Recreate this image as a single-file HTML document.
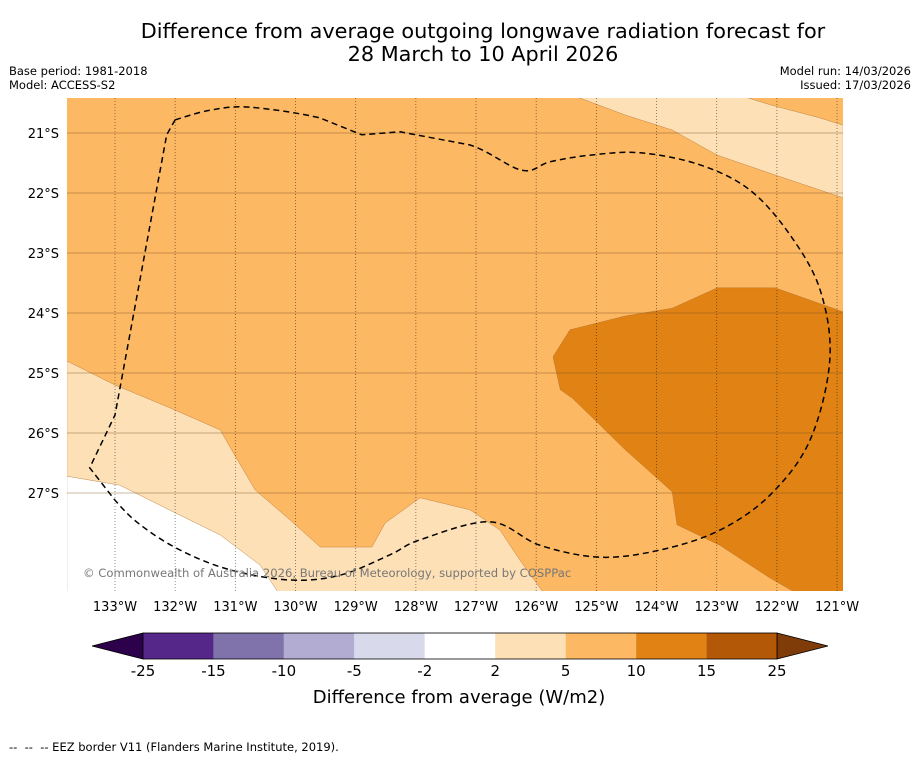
<!DOCTYPE html>
<html><head><meta charset="utf-8"><style>
body{margin:0;background:#fff;font-family:"Liberation Sans","DejaVu Sans",sans-serif}
svg text{font-family:"DejaVu Sans","Liberation Sans",sans-serif}
</style></head><body>
<svg id="c" width="919" height="758" viewBox="0 0 919 758" xmlns="http://www.w3.org/2000/svg">
<text x="483" y="38" text-anchor="middle" font-size="20.8">Difference from average outgoing longwave radiation forecast for</text>
<text x="483" y="61" text-anchor="middle" font-size="20.8">28 March to 10 April 2026</text>
<text x="9" y="75" font-size="11.5">Base period: 1981-2018</text>
<text x="9" y="89" font-size="11.5">Model: ACCESS-S2</text>
<text x="911" y="75" font-size="11.5" text-anchor="end">Model run: 14/03/2026</text>
<text x="911" y="89" font-size="11.5" text-anchor="end">Issued: 17/03/2026</text>
<defs><clipPath id="mc"><rect x="67" y="98" width="776" height="493"/></clipPath></defs>
<g id="map" clip-path="url(#mc)"></g>
<g id="axes"></g>
<g id="cbar"></g>
<text x="459" y="703" text-anchor="middle" font-size="18">Difference from average (W/m2)</text>
<text x="9" y="751" font-size="11.5" style="white-space:pre">--  --  -- EEZ border V11 (Flanders Marine Institute, 2019).</text>
</svg>
<script>
const lonTicks=[-133,-132,-131,-130,-129,-128,-127,-126,-125,-124,-123,-122,-121];
const latTicks=[-21,-22,-23,-24,-25,-26,-27];
const cbLevels=[-25,-15,-10,-5,-2,2,5,10,15,25];
const cbColors=["#542788","#8073ac","#b2abd2","#d8daeb","#ffffff","#fee0b6","#fdb863","#e08214","#b35806"];
const lightRegion=[[-133.8,-24.8],[-133,-25.2],[-132.09,-25.58],[-131.25,-25.95],[-131.01,-26.37],[-130.67,-26.95],[-130.09,-27.45],[-129.59,-27.9],[-128.73,-27.9],[-128.51,-27.5],[-127.93,-27.08],[-127.1,-27.28],[-126.6,-27.62],[-126.27,-28.12],[-125.85,-28.7],[-133.8,-28.7]];
const whiteRegion=[[-133.8,-26.72],[-132.92,-26.87],[-131.92,-27.37],[-131.25,-27.7],[-130.59,-28.2],[-130.26,-28.7],[-133.8,-28.7]];
const topLightRegion=[[-125.32,-20.4],[-124.52,-20.7],[-123.74,-20.95],[-122.99,-21.37],[-122.03,-21.7],[-120.9,-22.08],[-120.9,-20.87],[-121.28,-20.75],[-122.11,-20.53],[-122.53,-20.4]];
const darkRegion=[[-125.72,-24.73],[-125.44,-24.28],[-124.52,-24.05],[-123.74,-23.92],[-122.99,-23.58],[-122.03,-23.58],[-120.9,-23.98],[-120.9,-28.7],[-121.62,-28.7],[-122.11,-28.42],[-122.95,-27.87],[-123.66,-27.53],[-123.74,-26.98],[-124.52,-26.28],[-125.11,-25.7],[-125.4,-25.42],[-125.6,-25.28]];
const eezBorder=[[-132,-20.78],[-132.14,-21.03],[-133,-25.7],[-133.42,-26.58],[-133,-27.12],[-132.58,-27.53],[-131.92,-27.95],[-131.09,-28.28],[-130.09,-28.45],[-129.26,-28.37],[-128.43,-28.03],[-127.93,-27.78],[-126.77,-27.48],[-125.94,-27.87],[-124.94,-28.07],[-123.94,-27.95],[-122.95,-27.62],[-122.11,-27.03],[-121.45,-26.12],[-121.12,-24.78],[-121.28,-23.62],[-121.78,-22.7],[-122.45,-21.95],[-123.28,-21.53],[-124.27,-21.33],[-125.11,-21.37],[-125.77,-21.48],[-126.24,-21.62],[-127.1,-21.2],[-128.26,-20.98],[-128.9,-21.03],[-129.59,-20.75],[-130.76,-20.57],[-131.42,-20.62],[-132,-20.78]];
const NS="http://www.w3.org/2000/svg";
const X=lon=>115+(lon+133)*60.17;
const Y=lat=>133+(-21-lat)*60;
const CB=v=>{const i=cbLevels.indexOf(v);return 143+i*(634/9);};
function mk(t,a,p){const e=document.createElementNS(NS,t);for(const k in a)e.setAttribute(k,a[k]);p.appendChild(e);return e;}
const pts=arr=>arr.map(p=>X(p[0]).toFixed(1)+","+Y(p[1]).toFixed(1)).join(" ");
function smooth(arr,sharp){const P=arr.map(p=>[X(p[0]),Y(p[1])]);let d="M"+P[0][0]+","+P[0][1];
 for(let i=0;i<P.length-1;i++){const p0=P[Math.max(i-1,0)],p1=P[i],p2=P[i+1],p3=P[Math.min(i+2,P.length-1)];
  const k=(sharp.includes(i)||sharp.includes(i+1))?0:1/6;
  const c1=[p1[0]+(p2[0]-p0[0])*k,p1[1]+(p2[1]-p0[1])*k],c2=[p2[0]-(p3[0]-p1[0])*k,p2[1]-(p3[1]-p1[1])*k];
  d+=` C${c1[0].toFixed(1)},${c1[1].toFixed(1)} ${c2[0].toFixed(1)},${c2[1].toFixed(1)} ${p2[0].toFixed(1)},${p2[1].toFixed(1)}`;}
 return d;}
const map=document.getElementById('map');
let r=mk('rect',{x:67,y:98,width:776,height:493,fill:"#fdb863"},map);


[[lightRegion,"#fee0b6","region-2-5-southwest"],[whiteRegion,"#ffffff","region-neutral"],[topLightRegion,"#fee0b6","region-2-5-northeast"],[darkRegion,"#e08214","region-10-15"]].forEach(d=>{
 const e=mk('polygon',{points:pts(d[0]),fill:d[1],stroke:"#b07030","stroke-width":0.4},map);
 
 
});
lonTicks.forEach(l=>{
 const e=mk('line',{x1:X(l),x2:X(l),y1:98,y2:591,stroke:"#000","stroke-opacity":0.55,"stroke-width":0.8,"stroke-dasharray":"1,2"},map);
 
 
});
latTicks.forEach(l=>{
 const e=mk('line',{x1:67,x2:843,y1:Y(l),y2:Y(l),stroke:"#7a5020","stroke-opacity":0.55,"stroke-width":0.7},map);
 
 
});
const eez=mk('path',{d:smooth(eezBorder,[1,2,3,29,30]),fill:"none",stroke:"#000","stroke-width":1.5,"stroke-dasharray":"6,4"},map);


const cp=mk('text',{x:83,y:577,"font-size":11.6,fill:"#777"},map);
cp.textContent="© Commonwealth of Australia 2026, Bureau of Meteorology, supported by COSPPac";


const ax=document.getElementById('axes');
lonTicks.forEach(l=>{
 const t=mk('text',{x:X(l),y:611,"font-size":13,"text-anchor":"middle"},ax);
 t.textContent=Math.abs(l)+"°W";
 
 
});
latTicks.forEach(l=>{
 const t=mk('text',{x:59,y:Y(l)+5,"font-size":13,"text-anchor":"end"},ax);
 t.textContent=Math.abs(l)+"°S";
 
 
});
const cb=document.getElementById('cbar');
let tl=mk('polygon',{points:`92,646 143,633 143,659`,fill:"#2d004b",stroke:"#000","stroke-width":0.8},cb);


let th=mk('polygon',{points:`828,646 777,633 777,659`,fill:"#7f3b08",stroke:"#000","stroke-width":0.8},cb);


cbColors.forEach((c,i)=>{
 const x0=CB(cbLevels[i]),x1=CB(cbLevels[i+1]);
 const e=mk('rect',{x:x0,y:633,width:x1-x0,height:26,fill:c},cb);
 
 
});
const fr=mk('rect',{x:143,y:633,width:634,height:26,fill:"none",stroke:"#000","stroke-width":0.8},cb);


cbLevels.forEach(v=>{
 const t=mk('text',{x:CB(v),y:676,"font-size":15,"text-anchor":"middle"},cb);
 t.textContent=v;
 
 
});
</script>
</body></html>
